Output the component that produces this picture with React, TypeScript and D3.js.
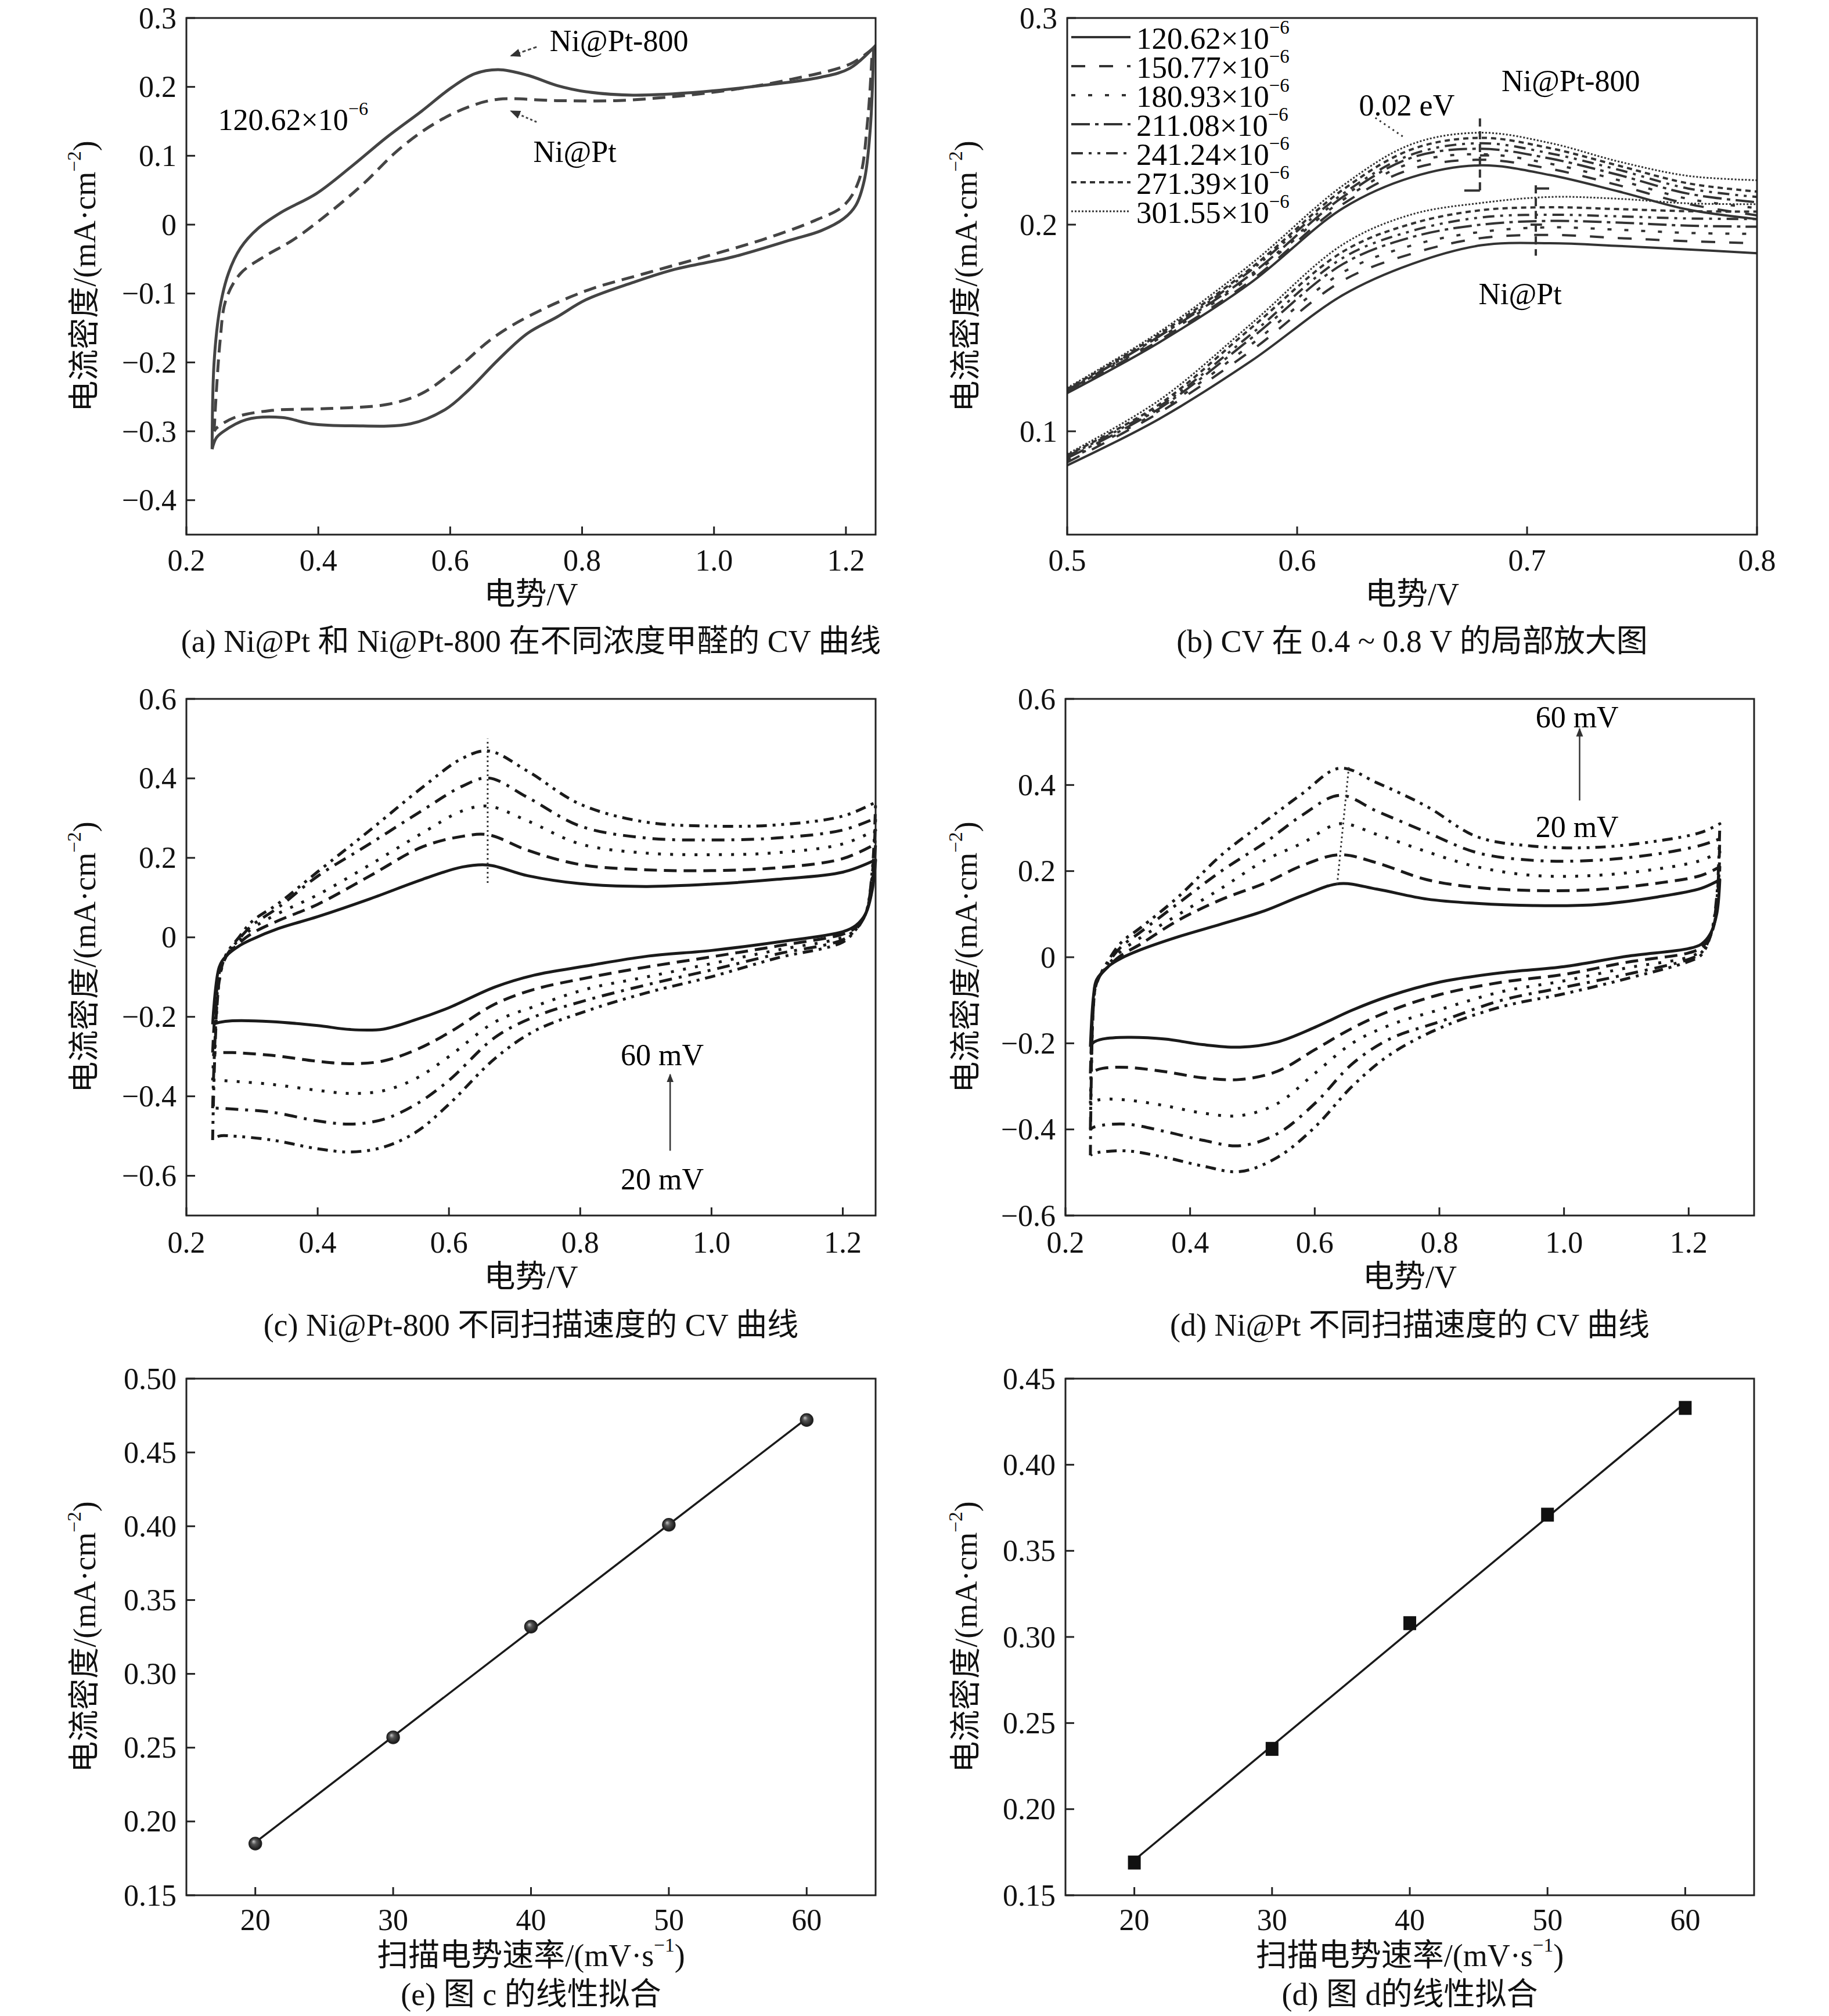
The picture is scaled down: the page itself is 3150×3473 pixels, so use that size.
import React from 'react';
import * as d3 from 'd3';

const W = 3150;
const H = 3473;
const FONT = '"Liberation Serif", "Times New Roman", "Noto Sans CJK SC", serif';

// ---------- panel (a): Ni@Pt-800 vs Ni@Pt at 120.62e-6
const aTicksX = [0.2, 0.4, 0.6, 0.8, 1.0, 1.2];
const aTicksY = [0.3, 0.2, 0.1, 0, -0.1, -0.2, -0.3, -0.4];
const a800UpV = [0.239, 0.242, 0.251, 0.264, 0.282, 0.308, 0.344, 0.397, 0.451, 0.504, 0.557, 0.602, 0.637, 0.673, 0.717, 0.762, 0.806, 0.877, 0.984, 1.073, 1.162, 1.206, 1.242];
const a800UpI = [-0.326, -0.2, -0.12, -0.07, -0.034, -0.006, 0.018, 0.045, 0.085, 0.127, 0.165, 0.199, 0.219, 0.225, 0.217, 0.202, 0.193, 0.188, 0.193, 0.202, 0.214, 0.227, 0.257];
const a800LoV = [1.242, 1.237, 1.228, 1.215, 1.197, 1.162, 1.117, 1.028, 0.94, 0.877, 0.806, 0.762, 0.717, 0.673, 0.628, 0.593, 0.54, 0.451, 0.388, 0.345, 0.291, 0.255, 0.245, 0.239];
const a800LoI = [0.257, 0.14, 0.065, 0.028, 0.009, -0.009, -0.022, -0.047, -0.065, -0.084, -0.109, -0.134, -0.158, -0.196, -0.24, -0.268, -0.289, -0.292, -0.289, -0.28, -0.283, -0.301, -0.31, -0.326];
const aPtUpV = [0.242, 0.251, 0.26, 0.282, 0.317, 0.362, 0.415, 0.468, 0.522, 0.575, 0.628, 0.673, 0.762, 0.851, 0.94, 1.028, 1.117, 1.206, 1.24];
const aPtUpI = [-0.3, -0.17, -0.109, -0.071, -0.047, -0.022, 0.016, 0.059, 0.109, 0.146, 0.171, 0.182, 0.18, 0.18, 0.186, 0.196, 0.211, 0.233, 0.255];
const aPtLoV = [1.24, 1.233, 1.22, 1.197, 1.153, 1.073, 0.984, 0.895, 0.806, 0.717, 0.664, 0.611, 0.557, 0.504, 0.415, 0.326, 0.273, 0.246, 0.242];
const aPtLoI = [0.255, 0.152, 0.065, 0.028, 0.006, -0.022, -0.047, -0.071, -0.096, -0.134, -0.165, -0.208, -0.245, -0.261, -0.267, -0.27, -0.28, -0.295, -0.3];

// ---------- panel (b): zoom 0.5-0.8 V, seven concentrations
const bTicksX = [0.5, 0.6, 0.7, 0.8];
const bTicksY = [0.3, 0.2, 0.1];
const bConc = ['120.62', '150.77', '180.93', '211.08', '241.24', '271.39', '301.55'];
const bV = [0.5, 0.54, 0.58, 0.62, 0.65, 0.68, 0.71, 0.74, 0.77, 0.8];
const b800 = [
  [0.1185, 0.143, 0.172, 0.208, 0.223, 0.2287, 0.224, 0.216, 0.2073, 0.2027],
  [0.119, 0.144, 0.173, 0.21, 0.227, 0.2314, 0.227, 0.219, 0.21, 0.2045],
  [0.119, 0.145, 0.175, 0.212, 0.23, 0.2341, 0.2295, 0.2215, 0.2125, 0.208],
  [0.1195, 0.146, 0.176, 0.2135, 0.2325, 0.2367, 0.232, 0.224, 0.215, 0.2108],
  [0.12, 0.146, 0.178, 0.215, 0.234, 0.2394, 0.2345, 0.2265, 0.2175, 0.2134],
  [0.1205, 0.147, 0.179, 0.217, 0.2365, 0.242, 0.237, 0.2285, 0.22, 0.216],
  [0.121, 0.148, 0.181, 0.219, 0.239, 0.2445, 0.2395, 0.2305, 0.2236, 0.2215],
];
const bPt = [
  [0.0835, 0.106, 0.134, 0.166, 0.181, 0.19, 0.191, 0.1897, 0.188, 0.1862],
  [0.085, 0.109, 0.139, 0.173, 0.186, 0.1935, 0.195, 0.1935, 0.192, 0.191],
  [0.086, 0.11, 0.142, 0.177, 0.19, 0.1965, 0.1987, 0.1975, 0.196, 0.1955],
  [0.087, 0.111, 0.145, 0.181, 0.194, 0.2, 0.2018, 0.201, 0.1995, 0.199],
  [0.088, 0.112, 0.147, 0.184, 0.197, 0.2035, 0.2048, 0.204, 0.203, 0.2027],
  [0.0885, 0.113, 0.15, 0.187, 0.2005, 0.207, 0.2084, 0.2075, 0.2065, 0.2063],
  [0.089, 0.115, 0.152, 0.1905, 0.205, 0.2105, 0.2134, 0.2125, 0.2103, 0.2099],
];

// ---------- panel (c): Ni@Pt-800, scan rates 20..60 mV/s
const cvTicksX = [0.2, 0.4, 0.6, 0.8, 1.0, 1.2];
const cvTicksY = [0.6, 0.4, 0.2, 0, -0.2, -0.4, -0.6];
const cUpV = [0.24, 0.25, 0.26, 0.28, 0.3, 0.34, 0.4, 0.48, 0.56, 0.62, 0.66, 0.72, 0.8, 0.9, 1.0, 1.1, 1.2, 1.25];
const cUp20 = [-0.219, -0.075, -0.048, -0.022, -0.005, 0.022, 0.052, 0.097, 0.146, 0.177, 0.182, 0.155, 0.135, 0.128, 0.134, 0.146, 0.164, 0.195];
const cUp30 = [-0.29, -0.09, -0.05, -0.015, 0.01, 0.042, 0.083, 0.155, 0.228, 0.254, 0.258, 0.219, 0.183, 0.17, 0.168, 0.175, 0.198, 0.235];
const cUp40 = [-0.36, -0.1, -0.05, -0.01, 0.022, 0.06, 0.107, 0.183, 0.263, 0.318, 0.33, 0.293, 0.235, 0.212, 0.208, 0.213, 0.235, 0.27];
const cUp50 = [-0.43, -0.11, -0.05, -0.005, 0.03, 0.075, 0.154, 0.236, 0.32, 0.38, 0.401, 0.352, 0.28, 0.25, 0.245, 0.25, 0.27, 0.3];
const cUp60 = [-0.51, -0.11, -0.045, 0.0, 0.04, 0.085, 0.165, 0.27, 0.378, 0.45, 0.469, 0.418, 0.335, 0.29, 0.28, 0.283, 0.305, 0.34];
const cLoV = [1.25, 1.245, 1.235, 1.22, 1.2, 1.1, 1.0, 0.9, 0.81, 0.73, 0.67, 0.6, 0.55, 0.5, 0.45, 0.4, 0.33, 0.27, 0.25, 0.24];
const cLo20 = [0.195, 0.12, 0.06, 0.03, 0.014, -0.012, -0.033, -0.048, -0.072, -0.095, -0.125, -0.177, -0.207, -0.231, -0.232, -0.222, -0.212, -0.21, -0.214, -0.219];
const cLo30 = [0.235, 0.14, 0.06, 0.025, 0.008, -0.022, -0.049, -0.075, -0.102, -0.131, -0.168, -0.24, -0.283, -0.311, -0.318, -0.312, -0.297, -0.29, -0.29, -0.29];
const cLo40 = [0.27, 0.15, 0.06, 0.02, 0.0, -0.032, -0.066, -0.1, -0.13, -0.174, -0.213, -0.3, -0.355, -0.386, -0.393, -0.385, -0.37, -0.362, -0.36, -0.36];
const cLo50 = [0.3, 0.16, 0.06, 0.02, -0.006, -0.042, -0.082, -0.12, -0.158, -0.2, -0.252, -0.36, -0.42, -0.458, -0.47, -0.462, -0.44, -0.432, -0.43, -0.43];
const cLo60 = [0.34, 0.17, 0.06, 0.02, -0.012, -0.052, -0.099, -0.14, -0.185, -0.236, -0.305, -0.42, -0.49, -0.528, -0.54, -0.532, -0.51, -0.5, -0.5, -0.51];
const cPeakV = [0.659, 0.659];
const cPeakI = [0.137, 0.5];

// ---------- panel (d): Ni@Pt, scan rates 20..60 mV/s
const dUpV = [0.24, 0.245, 0.25, 0.27, 0.29, 0.32, 0.38, 0.45, 0.52, 0.58, 0.64, 0.7, 0.78, 0.86, 0.95, 1.05, 1.15, 1.22, 1.25];
const dUp20 = [-0.208, -0.09, -0.052, -0.02, -0.002, 0.017, 0.047, 0.077, 0.108, 0.143, 0.171, 0.158, 0.135, 0.125, 0.12, 0.122, 0.14, 0.16, 0.18];
const dUp30 = [-0.27, -0.1, -0.055, -0.02, 0.005, 0.03, 0.085, 0.134, 0.172, 0.213, 0.238, 0.219, 0.18, 0.162, 0.155, 0.157, 0.172, 0.19, 0.21];
const dUp40 = [-0.34, -0.11, -0.06, -0.015, 0.015, 0.045, 0.098, 0.16, 0.225, 0.265, 0.31, 0.285, 0.245, 0.21, 0.19, 0.19, 0.205, 0.225, 0.245];
const dUp50 = [-0.4, -0.11, -0.06, -0.01, 0.025, 0.058, 0.124, 0.2, 0.266, 0.33, 0.376, 0.339, 0.29, 0.243, 0.225, 0.225, 0.24, 0.26, 0.275];
const dUp60 = [-0.46, -0.11, -0.06, -0.005, 0.035, 0.068, 0.139, 0.237, 0.315, 0.38, 0.439, 0.405, 0.35, 0.28, 0.258, 0.255, 0.27, 0.29, 0.31];
const dLoV = [1.25, 1.245, 1.235, 1.22, 1.2, 1.1, 1.0, 0.9, 0.8, 0.72, 0.66, 0.6, 0.54, 0.48, 0.42, 0.36, 0.3, 0.26, 0.245, 0.24];
const dLo20 = [0.18, 0.1, 0.055, 0.03, 0.02, 0.002, -0.022, -0.036, -0.058, -0.09, -0.123, -0.163, -0.197, -0.209, -0.203, -0.19, -0.186, -0.19, -0.198, -0.208];
const dLo30 = [0.21, 0.11, 0.05, 0.022, 0.01, -0.012, -0.04, -0.058, -0.087, -0.125, -0.165, -0.215, -0.265, -0.284, -0.28, -0.266, -0.256, -0.258, -0.265, -0.27];
const dLo40 = [0.245, 0.12, 0.05, 0.015, 0.0, -0.025, -0.055, -0.08, -0.122, -0.158, -0.2, -0.27, -0.34, -0.368, -0.362, -0.345, -0.332, -0.33, -0.335, -0.34];
const dLo50 = [0.275, 0.13, 0.05, 0.01, -0.005, -0.04, -0.07, -0.1, -0.15, -0.19, -0.248, -0.34, -0.41, -0.438, -0.425, -0.405, -0.388, -0.39, -0.395, -0.4];
const dLo60 = [0.31, 0.14, 0.05, 0.005, -0.01, -0.05, -0.085, -0.115, -0.165, -0.227, -0.3, -0.395, -0.465, -0.498, -0.485, -0.465, -0.45, -0.452, -0.456, -0.46];
const dPeakV = [0.636, 0.655];
const dPeakI = [0.169, 0.446];

// ---------- panels (e) and (f): peak current vs scan rate
const rates = [20, 30, 40, 50, 60];
const eTicksY = [0.5, 0.45, 0.4, 0.35, 0.3, 0.25, 0.2, 0.15];
const fTicksY = [0.45, 0.4, 0.35, 0.3, 0.25, 0.2, 0.15];
const ePeak = [0.185, 0.257, 0.332, 0.401, 0.472];
const fPeak = [0.169, 0.235, 0.308, 0.371, 0.433];

// line styles
const cvDash = ['none', '22,12', '5,16', '22,12,5,12', '18,10,5,10,5,10'];
const bDash = ['none', '24,24', '7,22', '32,9,6,9', '20,10,5,10,5,10', '9,7', '3,3'];

type Box = { x0: number; x1: number; y0: number; y1: number };
const boxA: Box = { x0: 321, x1: 1508, y0: 31, y1: 921 };
const boxB: Box = { x0: 1838, x1: 3026, y0: 31, y1: 921 };
const boxC: Box = { x0: 321, x1: 1508, y0: 1204, y1: 2094 };
const boxD: Box = { x0: 1835, x1: 3021, y0: 1204, y1: 2094 };
const boxE: Box = { x0: 321, x1: 1508, y0: 2375, y1: 3265 };
const boxF: Box = { x0: 1835, x1: 3021, y0: 2375, y1: 3265 };

const zip = (vs: number[], is: number[]) => vs.map((v, i) => [v, is[i]] as [number, number]);

function scales(box: Box, xd: [number, number], yd: [number, number]) {
  const x = d3.scaleLinear().domain(xd).range([box.x0, box.x1]);
  const y = d3.scaleLinear().domain(yd).range([box.y1, box.y0]);
  const line = d3
    .line<[number, number]>()
    .x((d) => x(d[0]))
    .y((d) => y(d[1]))
    .curve(d3.curveCatmullRom.alpha(0.5));
  return { x, y, line };
}

const FS = 52;

// text with a raised exponent, e.g. 10^-6
function Sup({ x, y, base, sup, after, fs = FS, anchor = 'start', transform }: any) {
  return (
    <text x={x} y={y} fontSize={fs} textAnchor={anchor} dominantBaseline="central" transform={transform}>
      {base}
      <tspan dy={-fs * 0.36} fontSize={fs * 0.62}>{sup}</tspan>
      {after ? <tspan dy={fs * 0.36}>{after}</tspan> : null}
    </text>
  );
}

const f1 = (v: number) => (v === 0 ? '0' : d3.format('.1f')(v));
const f2 = d3.format('.2f');
const fi = d3.format('d');

function Axes({ box, x, y, xTicks, yTicks, xFmt, yFmt, xTitle, yTitleX, rowY, caption }: any) {
  const cx = (box.x0 + box.x1) / 2;
  const cy = (box.y0 + box.y1) / 2;
  return (
    <g fill="#111">
      <rect x={box.x0} y={box.y0} width={box.x1 - box.x0} height={box.y1 - box.y0} fill="none" stroke="#222" strokeWidth={3} />
      {xTicks.map((t: number) => (
        <line key={'xt' + t} x1={x(t)} x2={x(t)} y1={box.y1} y2={box.y1 - 14} stroke="#222" strokeWidth={3} />
      ))}
      {yTicks.map((t: number) => (
        <line key={'yt' + t} x1={box.x0} x2={box.x0 + 15} y1={y(t)} y2={y(t)} stroke="#222" strokeWidth={3} />
      ))}
      {xTicks.map((t: number) => (
        <text key={'xl' + t} x={x(t)} y={rowY[0]} fontSize={FS} textAnchor="middle" dominantBaseline="central">
          {xFmt(t)}
        </text>
      ))}
      {yTicks.map((t: number) => (
        <text key={'yl' + t} x={box.x0 - 17} y={y(t)} fontSize={FS} textAnchor="end" dominantBaseline="central">
          {yFmt(t)}
        </text>
      ))}
      {xTitle}
      <Sup
        x={0}
        y={0}
        base="电流密度/(mA·cm"
        sup="−2"
        after=")"
        fs={54}
        anchor="middle"
        transform={`translate(${yTitleX},${cy}) rotate(-90)`}
      />
      <text x={cx} y={rowY[2]} fontSize={54} textAnchor="middle" dominantBaseline="central">
        {caption}
      </text>
    </g>
  );
}

function XTitleV({ x, y }: any) {
  return (
    <text x={x} y={y} fontSize={54} textAnchor="middle" dominantBaseline="central">
      电势/V
    </text>
  );
}

function PanelA() {
  const { x, y, line } = scales(boxA, [0.2, 1.245], [-0.45, 0.3]);
  const loop800 = [...zip(a800UpV, a800UpI), ...zip(a800LoV, a800LoI)];
  const loopPt = [...zip(aPtUpV, aPtUpI), ...zip(aPtLoV, aPtLoI)];
  const cx = (boxA.x0 + boxA.x1) / 2;
  return (
    <g>
      <path d={line(loop800) || ''} fill="none" stroke="#444" strokeWidth={5} />
      <path d={line(loopPt) || ''} fill="none" stroke="#444" strokeWidth={5} strokeDasharray="22,12" />
      <text x={x(0.856)} y={y(0.267)} fontSize={FS} textAnchor="middle" dominantBaseline="central">Ni@Pt-800</text>
      <line x1={x(0.731)} y1={y(0.258)} x2={x(0.692)} y2={y(0.245)} stroke="#444" strokeWidth={3} strokeDasharray="6,4" markerEnd="url(#arrow)" />
      <Sup x={x(0.248)} y={y(0.1525)} base="120.62×10" sup="−6" />
      <text x={x(0.789)} y={y(0.1057)} fontSize={FS} textAnchor="middle" dominantBaseline="central">Ni@Pt</text>
      <line x1={x(0.731)} y1={y(0.149)} x2={x(0.692)} y2={y(0.165)} stroke="#444" strokeWidth={3} strokeDasharray="4,4" markerEnd="url(#arrow)" />
      <Axes
        box={boxA} x={x} y={y} xTicks={aTicksX} yTicks={aTicksY} xFmt={f1} yFmt={f1}
        xTitle={<XTitleV x={cx} y={1024} />} yTitleX={146} rowY={[965, 1024, 1105]}
        caption="(a) Ni@Pt 和 Ni@Pt-800 在不同浓度甲醛的 CV 曲线"
      />
    </g>
  );
}

function PanelB() {
  const { x, y, line } = scales(boxB, [0.5, 0.8], [0.05, 0.3]);
  const cx = (boxB.x0 + boxB.x1) / 2;
  const legY0 = 64;
  const legStep = 50;
  return (
    <g>
      <g clipPath="url(#clipB)">
        {b800.map((s, i) => (
          <path key={'u' + i} d={line(zip(bV, s)) || ''} fill="none" stroke="#333" strokeWidth={i === 6 ? 3 : 4} strokeDasharray={bDash[i]} />
        ))}
        {bPt.map((s, i) => (
          <path key={'l' + i} d={line(zip(bV, s)) || ''} fill="none" stroke="#333" strokeWidth={i === 6 ? 3 : 4} strokeDasharray={bDash[i]} />
        ))}
      </g>
      {/* peak shift markers */}
      <line x1={x(0.6795)} x2={x(0.6795)} y1={y(0.2514)} y2={y(0.2165)} stroke="#333" strokeWidth={4} strokeDasharray="14,8" />
      <line x1={x(0.6727)} x2={x(0.6795)} y1={y(0.2165)} y2={y(0.2165)} stroke="#333" strokeWidth={4} />
      <line x1={x(0.6795)} x2={x(0.6835)} y1={y(0.2335)} y2={y(0.2335)} stroke="#333" strokeWidth={4} />
      <line x1={x(0.7038)} x2={x(0.7038)} y1={y(0.219)} y2={y(0.185)} stroke="#333" strokeWidth={4} strokeDasharray="14,8" />
      <line x1={x(0.7038)} x2={x(0.7096)} y1={y(0.2175)} y2={y(0.2175)} stroke="#333" strokeWidth={4} />
      <line x1={x(0.7015)} x2={x(0.7065)} y1={y(0.2)} y2={y(0.2)} stroke="#333" strokeWidth={4} />
      <line x1={x(0.634)} y1={y(0.2517)} x2={x(0.6467)} y2={y(0.2421)} stroke="#333" strokeWidth={3} strokeDasharray="3,6" />
      <text x={x(0.6477)} y={y(0.2576)} fontSize={FS} textAnchor="middle" dominantBaseline="central">0.02 eV</text>
      <text x={x(0.719)} y={y(0.2694)} fontSize={FS} textAnchor="middle" dominantBaseline="central">Ni@Pt-800</text>
      <text x={x(0.697)} y={y(0.1663)} fontSize={FS} textAnchor="middle" dominantBaseline="central">Ni@Pt</text>
      {/* legend */}
      {bConc.map((c, i) => (
        <g key={'lg' + c}>
          <line x1={1845} x2={1947} y1={legY0 + i * legStep} y2={legY0 + i * legStep} stroke="#333" strokeWidth={i === 6 ? 3 : 4} strokeDasharray={bDash[i]} />
          <Sup x={1957} y={legY0 + i * legStep + 2} base={`${c}×10`} sup="−6" fs={53} />
        </g>
      ))}
      <Axes
        box={boxB} x={x} y={y} xTicks={bTicksX} yTicks={bTicksY} xFmt={f1} yFmt={f1}
        xTitle={<XTitleV x={cx} y={1024} />} yTitleX={1664} rowY={[965, 1024, 1105]}
        caption="(b) CV 在 0.4 ~ 0.8 V 的局部放大图"
      />
    </g>
  );
}

function CVPanel({ box, xd, yd, upV, ups, loV, los, peakV, peakI, arrowV, arrowI, lab60, lab20, caption }: any) {
  const { x, y, line } = scales(box, xd, yd);
  const cx = (box.x0 + box.x1) / 2;
  return (
    <g>
      {ups.map((u: number[], i: number) => (
        <path
          key={'cv' + i}
          d={line([...zip(upV, u), ...zip(loV, los[i])]) || ''}
          fill="none"
          stroke="#1a1a1a"
          strokeWidth={5}
          strokeDasharray={cvDash[i]}
          strokeLinejoin="round"
        />
      ))}
      <line x1={x(peakV[0])} y1={y(peakI[0])} x2={x(peakV[1])} y2={y(peakI[1])} stroke="#333" strokeWidth={3} strokeDasharray="3,5" />
      <line x1={x(arrowV)} x2={x(arrowV)} y1={y(arrowI[0])} y2={y(arrowI[1])} stroke="#333" strokeWidth={2.5} markerEnd="url(#arrow)" />
      <text x={x(lab60[0])} y={y(lab60[1])} fontSize={FS} textAnchor="middle" dominantBaseline="central">60 mV</text>
      <text x={x(lab20[0])} y={y(lab20[1])} fontSize={FS} textAnchor="middle" dominantBaseline="central">20 mV</text>
      <Axes
        box={box} x={x} y={y} xTicks={cvTicksX} yTicks={cvTicksY} xFmt={f1} yFmt={f1}
        xTitle={<XTitleV x={cx} y={2200} />} yTitleX={box.x0 < 1000 ? 146 : 1664} rowY={[2140, 2200, 2283]}
        caption={caption}
      />
    </g>
  );
}

function FitPanel({ box, yd, yTicks, peaks, square, caption }: any) {
  const { x, y } = scales(box, [15, 65], yd);
  const cx = (box.x0 + box.x1) / 2;
  // least-squares line through the measured peaks
  const mx = d3.mean(rates) as number;
  const my = d3.mean(peaks as number[]) as number;
  const slope =
    d3.sum(rates.map((r, i) => (r - mx) * (peaks[i] - my))) / d3.sum(rates.map((r) => (r - mx) * (r - mx)));
  const fit = (r: number) => my + slope * (r - mx);
  const r0 = rates[0];
  const r1 = rates[rates.length - 1];
  return (
    <g>
      <line x1={x(r0)} y1={y(fit(r0))} x2={x(r1)} y2={y(fit(r1))} stroke="#1a1a1a" strokeWidth={3.5} />
      {rates.map((r, i) =>
        square ? (
          <rect key={'m' + r} x={x(r) - 11} y={y(peaks[i]) - 12} width={22} height={24} fill="#111" />
        ) : (
          <circle key={'m' + r} cx={x(r)} cy={y(peaks[i])} r={11} fill="url(#ball)" stroke="#222" strokeWidth={1.5} />
        )
      )}
      <Axes
        box={box} x={x} y={y} xTicks={rates} yTicks={yTicks} xFmt={fi} yFmt={f2}
        xTitle={
          <Sup x={cx} y={3369} base="扫描电势速率/(mV·s" sup="−1" after=")" fs={54} anchor="middle" />
        }
        yTitleX={box.x0 < 1000 ? 146 : 1664} rowY={[3307, 3369, 3436]}
        caption={caption}
      />
    </g>
  );
}

export default function App() {
  return (
    <svg
      width={W}
      height={H}
      viewBox={`0 0 ${W} ${H}`}
      style={{ position: 'absolute', left: 0, top: 0, background: '#fff' }}
      fontFamily={FONT}
    >
      <defs>
        <marker id="arrow" viewBox="0 0 10 10" refX="9" refY="5" markerWidth="6" markerHeight="6" orient="auto">
          <path d="M0,1 L10,5 L0,9 z" fill="#333" />
        </marker>
        <radialGradient id="ball" cx="50%" cy="50%" r="55%" fx="35%" fy="32%">
          <stop offset="0%" stopColor="#c8c8c8" />
          <stop offset="35%" stopColor="#555" />
          <stop offset="100%" stopColor="#0d0d0d" />
        </radialGradient>
        <clipPath id="clipB">
          <rect x={boxB.x0} y={boxB.y0} width={boxB.x1 - boxB.x0} height={boxB.y1 - boxB.y0} />
        </clipPath>
      </defs>
      <rect x={0} y={0} width={W} height={H} fill="#fff" />
      <PanelA />
      <PanelB />
      <CVPanel
        box={boxC} xd={[0.2, 1.25]} yd={[-0.7, 0.6]}
        upV={cUpV} ups={[cUp20, cUp30, cUp40, cUp50, cUp60]}
        loV={cLoV} los={[cLo20, cLo30, cLo40, cLo50, cLo60]}
        peakV={cPeakV} peakI={cPeakI}
        arrowV={0.937} arrowI={[-0.537, -0.345]}
        lab60={[0.925, -0.296]} lab20={[0.925, -0.608]}
        caption="(c) Ni@Pt-800 不同扫描速度的 CV 曲线"
      />
      <CVPanel
        box={boxD} xd={[0.2, 1.305]} yd={[-0.6, 0.6]}
        upV={dUpV} ups={[dUp20, dUp30, dUp40, dUp50, dUp60]}
        loV={dLoV} los={[dLo20, dLo30, dLo40, dLo50, dLo60]}
        peakV={dPeakV} peakI={dPeakI}
        arrowV={1.025} arrowI={[0.364, 0.531]}
        lab60={[1.021, 0.557]} lab20={[1.021, 0.303]}
        caption="(d) Ni@Pt 不同扫描速度的 CV 曲线"
      />
      <FitPanel box={boxE} yd={[0.15, 0.5]} yTicks={eTicksY} peaks={ePeak} square={false} caption="(e) 图 c 的线性拟合" />
      <FitPanel box={boxF} yd={[0.15, 0.45]} yTicks={fTicksY} peaks={fPeak} square={true} caption="(d) 图 d的线性拟合" />
    </svg>
  );
}
